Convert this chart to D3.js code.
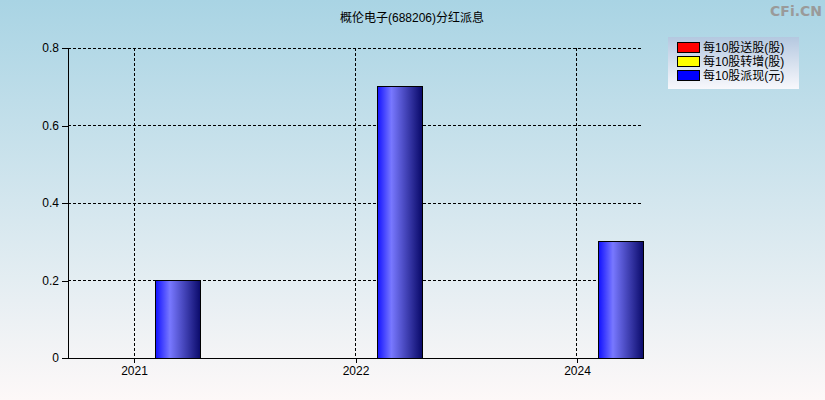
<!DOCTYPE html>
<html>
<head>
<meta charset="utf-8">
<script src="https://cdn.jsdelivr.net/npm/d3@7"></script>
<style>
  body { margin: 0; }
  svg { display: block; font-family: "Liberation Sans", "Noto Sans CJK SC", sans-serif; }
</style>
</head>
<body>
<div id="chart"></div>
<script>
// Données
const years = ["2021", "2022", "2024"];
const seriesNames = ["每10股送股(股)", "每10股转增(股)", "每10股派现(元)"];
const songGu = [0, 0, 0];
const zhuanZeng = [0, 0, 0];
const paiXian = [0.2, 0.7, 0.3];
const yTicks = [0, 0.2, 0.4, 0.6, 0.8];
const seriesColors = ["#ff0000", "#ffff00", "#0000ff"];

const width = 825, height = 400;
const margin = {top: 48, right: 182, bottom: 42, left: 68};
const innerW = width - margin.left - margin.right;
const innerH = height - margin.top - margin.bottom;

const svg = d3.select("#chart").append("svg")
  .attr("width", width)
  .attr("height", height);

// Dégradés
const defs = svg.append("defs");
const bg = defs.append("linearGradient").attr("id", "bg").attr("x1", 0).attr("y1", 0).attr("x2", 0).attr("y2", 1);
bg.append("stop").attr("offset", "0%").attr("stop-color", "#a9d4e4");
bg.append("stop").attr("offset", "100%").attr("stop-color", "#fdf8f8");

const lg = defs.append("linearGradient").attr("id", "legendBg").attr("x1", 0).attr("y1", 0).attr("x2", 0).attr("y2", 1);
lg.append("stop").attr("offset", "0%").attr("stop-color", "#b4c8e0");
lg.append("stop").attr("offset", "100%").attr("stop-color", "#f8f8fc");

const barGrad = defs.append("linearGradient").attr("id", "barBlue").attr("x1", 0).attr("y1", 0).attr("x2", 1).attr("y2", 0);
barGrad.append("stop").attr("offset", "0%").attr("stop-color", "#1010ff");
barGrad.append("stop").attr("offset", "32%").attr("stop-color", "#7878ff");
barGrad.append("stop").attr("offset", "100%").attr("stop-color", "#0a0a6a");

svg.append("rect").attr("width", width).attr("height", height).attr("fill", "url(#bg)");

// Titre
svg.append("text")
  .attr("x", 412).attr("y", 22)
  .attr("text-anchor", "middle")
  .attr("font-size", 12)
  .attr("fill", "#000")
  .text("概伦电子(688206)分红派息");

svg.append("text")
  .attr("x", 822).attr("y", 16)
  .attr("text-anchor", "end")
  .attr("font-size", 14)
  .attr("font-weight", "bold")
  .attr("font-family", "DejaVu Sans")
  .attr("fill", "#9a9a9a")
  .text("CFi.CN");

const g = svg.append("g").attr("transform", `translate(${margin.left},${margin.top})`);

// Échelles
const x = d3.scalePoint().domain(years).range([0, innerW]).padding(0.298);
const xInner = d3.scaleBand().domain(seriesNames).range([-68.5, 66.5]);
const y = d3.scaleLinear().domain([0, 0.8]).range([innerH, 0]);

// Grille
g.append("g").selectAll("line").data(yTicks.filter(d => d > 0)).join("line")
  .attr("x1", 0).attr("x2", innerW)
  .attr("y1", d => y(d)).attr("y2", d => y(d))
  .attr("stroke", "#000").attr("stroke-dasharray", "3,2").attr("shape-rendering", "crispEdges");

g.append("g").selectAll("line").data(years).join("line")
  .attr("x1", d => x(d)).attr("x2", d => x(d))
  .attr("y1", 0).attr("y2", innerH)
  .attr("stroke", "#000").attr("stroke-dasharray", "3,2").attr("shape-rendering", "crispEdges");

// Barres
const table = years.map((yr, i) => ({year: yr, values: [songGu[i], zhuanZeng[i], paiXian[i]]}));
const groups = g.selectAll("g.grp").data(table).join("g")
  .attr("class", "grp")
  .attr("transform", d => `translate(${x(d.year)},0)`);

groups.selectAll("rect")
  .data(d => d.values.map((v, k) => ({name: seriesNames[k], value: v, k})).filter(e => e.value > 0))
  .join("rect")
  .attr("x", d => xInner(d.name))
  .attr("width", xInner.bandwidth())
  .attr("y", d => y(d.value))
  .attr("height", d => innerH - y(d.value))
  .attr("fill", d => d.k === 2 ? "url(#barBlue)" : seriesColors[d.k])
  .attr("stroke", "#000")
  .attr("shape-rendering", "crispEdges");

// Axes
const yAxis = g.append("g")
  .call(d3.axisLeft(y).tickValues(yTicks).tickSize(6).tickPadding(3).tickFormat(d => d === 0 ? "0" : d3.format(".1f")(d)));
yAxis.select(".domain").attr("d", `M0,0V${innerH}`);
yAxis.selectAll("text").attr("font-size", 12).attr("fill", "#000").attr("font-family", "Liberation Sans");
yAxis.attr("shape-rendering", "crispEdges");

const xAxis = g.append("g").attr("transform", `translate(0,${innerH})`)
  .call(d3.axisBottom(x).tickSize(5).tickPadding(3));
xAxis.select(".domain").attr("d", `M0,0H${innerW + 1}`);
xAxis.selectAll("text").attr("font-size", 12).attr("fill", "#000").attr("font-family", "Liberation Sans");
xAxis.attr("shape-rendering", "crispEdges");

// Légende
const legend = svg.append("g").attr("transform", "translate(668,37)");
legend.append("rect").attr("width", 131).attr("height", 52).attr("fill", "url(#legendBg)");
const items = legend.selectAll("g").data(seriesNames).join("g")
  .attr("transform", (d, i) => `translate(9,${5 + i * 14})`);
items.append("rect")
  .attr("width", 22).attr("height", 10)
  .attr("fill", (d, i) => seriesColors[i])
  .attr("stroke", "#000").attr("shape-rendering", "crispEdges");
items.append("text")
  .attr("x", 26).attr("y", 10)
  .attr("font-size", 12)
  .attr("fill", "#000")
  .text(d => d);
</script>
</body>
</html>
